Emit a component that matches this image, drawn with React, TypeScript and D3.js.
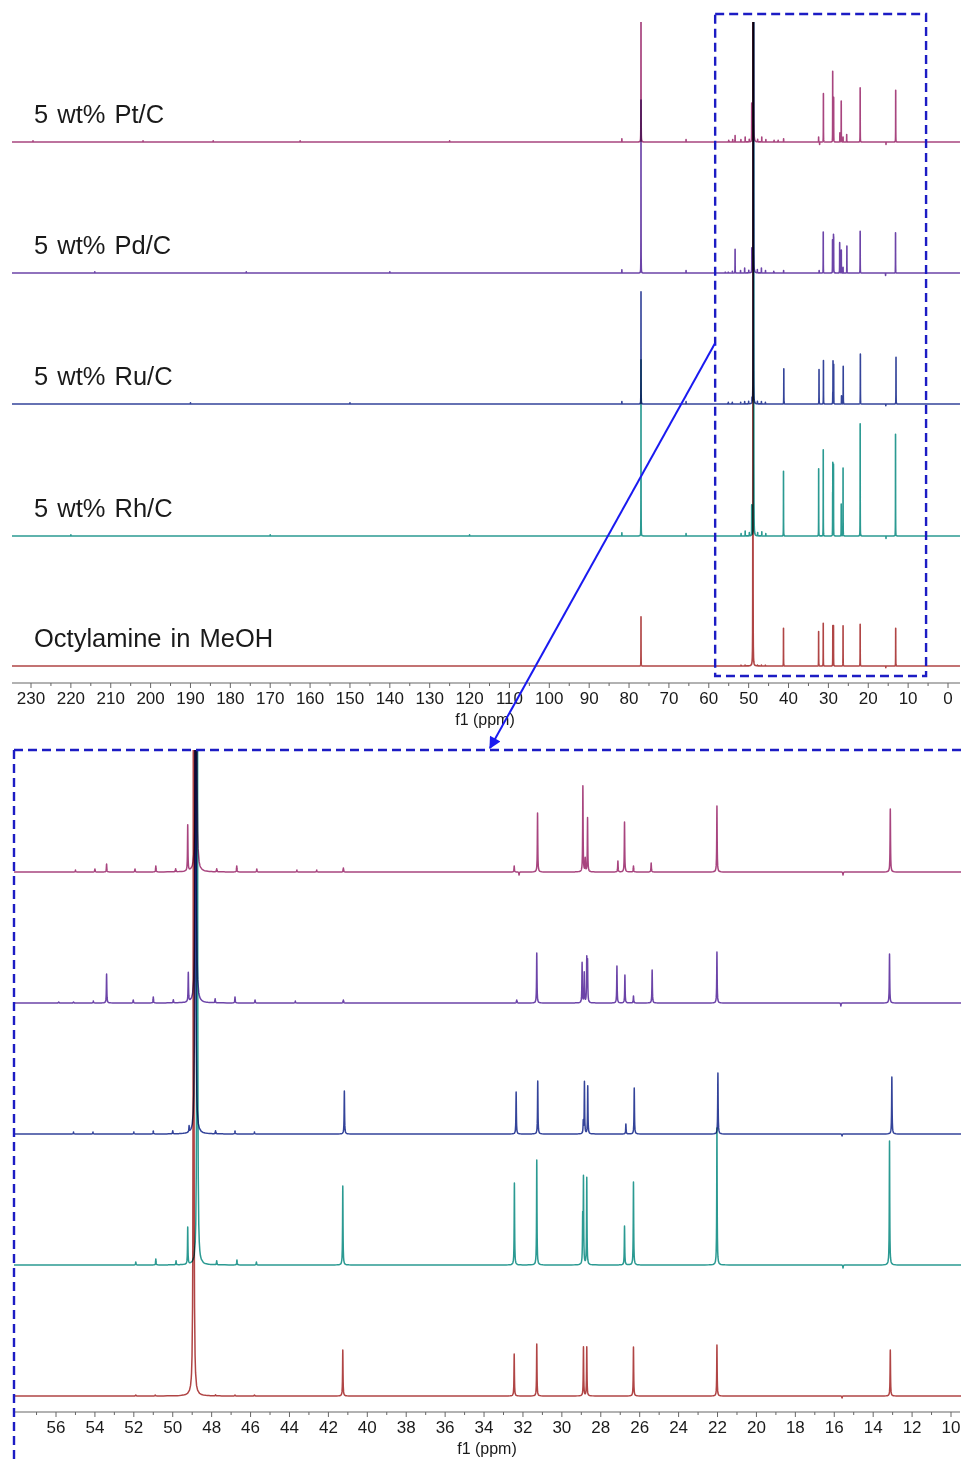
import { useEffect, useRef } from 'react';
import * as d3 from 'd3';

// [ppm, intensity] — intensity in a.u. (1 a.u. = 1px in the expanded panel)
type Peak = [number, number];

const sampleNames = ['5 wt% Pt/C', '5 wt% Pd/C', '5 wt% Ru/C', '5 wt% Rh/C', 'Octylamine in MeOH'];
const traceColors = ['#a8457f', '#6c44a8', '#34449a', '#2b9a92', '#b04545'];

const ptPeaks: Peak[] = [
	[229.5, 1.5], [201.9, 1.5], [184.3, 1.5], [162.5, 1.5], [125.0, 1.5], [81.8, 4], [65.7, 3],
	[77.0, 300], [48.8, 1500], [49.23, 46],
	[55.0, 2], [54.0, 3], [53.4, 8], [51.94, 3], [50.87, 6], [49.85, 3], [47.74, 3], [46.71, 6], [45.68, 3],
	[43.62, 2], [42.6, 2], [41.23, 4], [32.45, 6], [32.2, -3], [31.25, 59], [28.92, 86], [28.8, 13], [28.68, 54],
	[27.12, 11], [26.78, 50], [26.32, 6], [25.41, 9], [22.03, 66], [15.55, -3], [13.12, 63],
];

const pdPeaks: Peak[] = [
	[214.0, 1.5], [176.0, 1.5], [140.0, 1.5], [81.8, 4], [65.7, 3],
	[77.0, 211], [48.82, 1500], [49.2, 29],
	[55.86, 1], [55.1, 1], [54.08, 2], [53.4, 29], [52.03, 3], [51.0, 6], [49.97, 3], [47.82, 4], [46.8, 6], [45.77, 3],
	[43.7, 2], [41.23, 3], [32.32, 3], [31.29, 50], [28.96, 40], [28.85, 30], [28.72, 43], [28.68, 40],
	[27.17, 37], [26.76, 28], [26.32, 7], [25.36, 33], [22.03, 51], [15.66, -3], [13.16, 49],
];

const ruPeaks: Peak[] = [
	[190.0, 1.5], [150.0, 1.5], [81.8, 3], [65.7, 3],
	[77.0, 137], [48.84, 1500], [49.16, 6],
	[55.1, 2], [54.1, 2], [52.0, 2], [51.0, 3], [50.0, 3], [47.8, 3], [46.8, 3], [45.8, 2],
	[41.18, 43], [32.35, 42], [31.24, 53], [28.9, 12], [28.84, 52], [28.67, 48], [26.71, 10], [26.28, 46],
	[21.98, 61], [15.6, -2], [13.04, 57],
];

const rhPeaks: Peak[] = [
	[220.0, 1.5], [170.0, 1.5], [120.0, 1.5], [81.8, 4], [65.7, 3],
	[77.0, 215], [48.74, 1500], [49.23, 37],
	[51.9, 3], [50.87, 6], [49.83, 4], [47.74, 4], [46.7, 5], [45.7, 3],
	[41.26, 79], [32.44, 82], [31.29, 105], [28.93, 45], [28.89, 85], [28.72, 87], [26.78, 39], [26.32, 83],
	[22.03, 137], [15.55, -3], [13.16, 124],
];

const octPeaks: Peak[] = [
	[77.0, 60], [48.93, 1500],
	[51.9, 1], [50.9, 1], [47.8, 1], [46.8, 1], [45.8, 1],
	[41.26, 46], [32.45, 42], [31.29, 52], [28.89, 49], [28.72, 49], [26.32, 49], [22.03, 51], [15.6, -2], [13.12, 46],
];

const traces = [ptPeaks, pdPeaks, ruPeaks, rhPeaks, octPeaks];

const topTickLabels = [230, 220, 210, 200, 190, 180, 170, 160, 150, 140, 130, 120, 110, 100, 90, 80, 70, 60, 50, 40, 30, 20, 10, 0];
const bottomTickLabels = [56, 54, 52, 50, 48, 46, 44, 42, 40, 38, 36, 34, 32, 30, 28, 26, 24, 22, 20, 18, 16, 14, 12, 10];

const FONT = '"Liberation Sans", Arial, sans-serif';
const LINE_W = 0.013; // lorentzian half width, ppm
const OFFSETS = [0, 0.25, 0.5, 1, 1.5, 2, 3, 4, 6, 8, 12, 16, 24, 32, 48, 64, 96, 128];

const buildPath = (
	peaks: Peak[],
	x: d3.ScaleLinear<number, number>,
	h: d3.ScaleLinear<number, number>,
	base: number,
	hi: number,
	lo: number
) => {
	const samples: number[] = [hi, lo];
	peaks.forEach(([p]) => {
		OFFSETS.forEach((o) => {
			[p + o * LINE_W, p - o * LINE_W].forEach((s) => {
				if (s <= hi && s >= lo) samples.push(s);
			});
		});
	});
	samples.sort((a, b) => b - a);
	const w2 = LINE_W * LINE_W;
	const pts: [number, number][] = samples.map((s) => {
		let v = 0;
		peaks.forEach(([p, a]) => {
			v += (a * w2) / ((s - p) * (s - p) + w2);
		});
		return [x(s), base - h(v)];
	});
	return d3.line()(pts) || '';
};

export default function App() {
	const svgRef = useRef<SVGSVGElement>(null);

	useEffect(() => {
		if (!svgRef.current) return;
		const svg = d3.select(svgRef.current);
		svg.selectAll('*').remove();

		// ---------- overview panel ----------
		const xTop = d3.scaleLinear().domain([230, 0]).range([31, 948]);
		const hTop = d3.scaleLinear().domain([0, 122]).range([0, 100]);
		const topBase = [142, 273, 404, 536, 666];
		const topHi = xTop.invert(12);
		const topLo = xTop.invert(960);

		// ---------- expanded panel ----------
		const xBot = d3.scaleLinear().domain([56, 10]).range([56, 951]);
		const hBot = d3.scaleLinear().domain([0, 100]).range([0, 100]);
		const botBase = [872, 1003, 1134, 1265, 1396];
		const botHi = xBot.invert(14);
		const botLo = xBot.invert(961);

		const defs = svg.append('defs');
		defs.append('clipPath').attr('id', 'clip-top').append('rect').attr('x', 12).attr('y', 22).attr('width', 949).attr('height', 660);
		defs.append('clipPath').attr('id', 'clip-bot').append('rect').attr('x', 14).attr('y', 750).attr('width', 947).attr('height', 660);
		defs
			.append('marker')
			.attr('id', 'arrow-head')
			.attr('viewBox', '0 0 10 10')
			.attr('refX', 9)
			.attr('refY', 5)
			.attr('markerWidth', 7)
			.attr('markerHeight', 6)
			.attr('markerUnits', 'strokeWidth')
			.attr('orient', 'auto')
			.append('path')
			.attr('d', 'M0,0 L10,5 L0,10 z')
			.attr('fill', '#1a1af0');

		// spectra
		const gTop = svg.append('g').attr('clip-path', 'url(#clip-top)');
		const gBot = svg.append('g').attr('clip-path', 'url(#clip-bot)');
		traces.forEach((peaks, i) => {
			gTop
				.append('path')
				.attr('d', buildPath(peaks, xTop, hTop, topBase[i], topHi, topLo))
				.attr('fill', 'none')
				.attr('stroke', traceColors[i])
				.attr('stroke-width', 1.6)
				.attr('stroke-linejoin', 'round')
				.style('mix-blend-mode', 'multiply');
			gBot
				.append('path')
				.attr('d', buildPath(peaks, xBot, hBot, botBase[i], botHi, botLo))
				.attr('fill', 'none')
				.attr('stroke', traceColors[i])
				.attr('stroke-width', 1.5)
				.attr('stroke-linejoin', 'round')
				.style('mix-blend-mode', 'multiply');
		});

		// sample labels
		sampleNames.forEach((name, i) => {
			svg
				.append('text')
				.attr('x', 34)
				.attr('y', topBase[i] - 19)
				.attr('font-family', FONT)
				.attr('font-size', 25.5)
				.attr('word-spacing', 2)
				.attr('fill', '#1a1a1a')
				.text(name);
		});

		// axes
		const drawAxis = (
			x: d3.ScaleLinear<number, number>,
			labels: number[],
			step: number,
			y: number,
			x0: number,
			x1: number,
			titleX: number
		) => {
			const g = svg.append('g');
			g.append('line').attr('x1', x0).attr('x2', x1).attr('y1', y).attr('y2', y).attr('stroke', '#666').attr('stroke-width', 1.2);
			labels.forEach((v) => {
				g.append('line').attr('x1', x(v)).attr('x2', x(v)).attr('y1', y).attr('y2', y + 5).attr('stroke', '#666');
				const m = x(v + step / 2);
				if (m >= x0 && m <= x1) {
					g.append('line').attr('x1', m).attr('x2', m).attr('y1', y).attr('y2', y + 3).attr('stroke', '#666');
				}
				g.append('text')
					.attr('x', x(v))
					.attr('y', y + 21)
					.attr('text-anchor', 'middle')
					.attr('font-family', FONT)
					.attr('font-size', 17)
					.attr('fill', '#1a1a1a')
					.text(v);
			});
			g.append('text')
				.attr('x', titleX)
				.attr('y', y + 42)
				.attr('text-anchor', 'middle')
				.attr('font-family', FONT)
				.attr('font-size', 16)
				.attr('fill', '#1a1a1a')
				.text('f1 (ppm)');
		};
		drawAxis(xTop, topTickLabels, 10, 683, 12, 960, 485);
		drawAxis(xBot, bottomTickLabels, 2, 1412, 14, 960, 487);

		// zoom window + arrow
		const blue = '#1c1cc4';
		svg
			.append('rect')
			.attr('x', xTop(58.4))
			.attr('y', 14)
			.attr('width', xTop(5.5) - xTop(58.4))
			.attr('height', 662)
			.attr('fill', 'none')
			.attr('stroke', blue)
			.attr('stroke-width', 2.4)
			.attr('stroke-dasharray', '9 5');
		svg.append('line').attr('x1', 14).attr('x2', 961).attr('y1', 750).attr('y2', 750).attr('stroke', blue).attr('stroke-width', 2.4).attr('stroke-dasharray', '9 5');
		svg.append('line').attr('x1', 14).attr('x2', 14).attr('y1', 750).attr('y2', 1460).attr('stroke', blue).attr('stroke-width', 2.4).attr('stroke-dasharray', '9 5');
		svg
			.append('line')
			.attr('x1', xTop(58.4))
			.attr('y1', 343)
			.attr('x2', 490)
			.attr('y2', 748)
			.attr('stroke', '#1a1af0')
			.attr('stroke-width', 2)
			.attr('marker-end', 'url(#arrow-head)');
	}, []);

	return (
		<svg
			ref={svgRef}
			width={961}
			height={1460}
			style={{ position: 'absolute', left: 0, top: 0, display: 'block', background: '#fff' }}
		/>
	);
}
